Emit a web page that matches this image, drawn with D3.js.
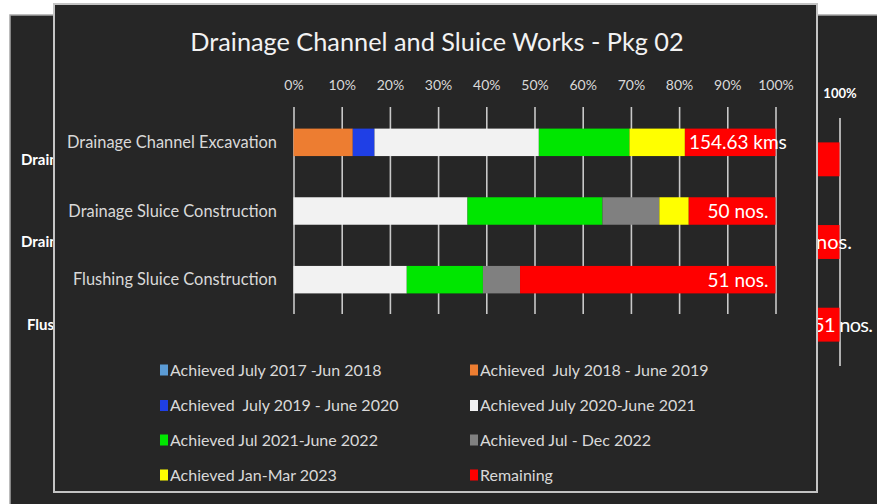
<!DOCTYPE html>
<html>
<head>
<meta charset="utf-8">
<script src="https://cdn.jsdelivr.net/npm/d3@7"></script>
<style>
  html, body { margin: 0; padding: 0; background: #ffffff; }
  svg { display: block; }
  text { font-family: Lato, "Open Sans", sans-serif; }
</style>
</head>
<body>
<svg id="chart" width="877" height="504"></svg>
<script>
// ---------------- data ----------------
const chartTitle = "Drainage Channel and Sluice Works - Pkg 02";
const categories = ["Drainage Channel Excavation", "Drainage Sluice Construction", "Flushing Sluice Construction"];
const seriesNames = [
  "Achieved July 2017 -Jun 2018",
  "Achieved  July 2018 - June 2019",
  "Achieved  July 2019 - June 2020",
  "Achieved July 2020-June 2021",
  "Achieved Jul 2021-June 2022",
  "Achieved Jul - Dec 2022",
  "Achieved Jan-Mar 2023",
  "Remaining"
];
const seriesColors = ["#5b9bd5", "#ed7d31", "#1f3fe6", "#f2f2f2", "#00e600", "#808080", "#ffff00", "#ff0000"];
// percentages per category
const jul17_jun18 = [0, 0, 0];
const jul18_jun19 = [12.3, 0, 0];
const jul19_jun20 = [4.5, 0, 0];
const jul20_jun21 = [34.1, 36.1, 23.5];
const jul21_jun22 = [18.8, 28.0, 15.8];
const jul_dec22   = [0, 11.8, 7.7];
const jan_mar23   = [11.5, 6.1, 0];
const remaining   = [18.8, 18.0, 53.0];
const barLabels = ["154.63 kms", "50 nos.", "51 nos."];
const tickValues = [0, 10, 20, 30, 40, 50, 60, 70, 80, 90, 100];
const tickLabels = ["0%", "10%", "20%", "30%", "40%", "50%", "60%", "70%", "80%", "90%", "100%"];

// ---------------- build table ----------------
const seriesValues = [jul17_jun18, jul18_jun19, jul19_jun20, jul20_jun21, jul21_jun22, jul_dec22, jan_mar23, remaining];
const keys = seriesNames.map((d, i) => "s" + i);
const rows = categories.map((c, ci) => {
  const r = { category: c };
  keys.forEach((k, si) => { r[k] = seriesValues[si][ci]; });
  return r;
});
const stacked = d3.stack().keys(keys)(rows);
const color = d3.scaleOrdinal().domain(keys).range(seriesColors);

const svg = d3.select("#chart");

// front panel geometry
const panel = { x: 54, y: 4, w: 763, h: 488 };

// clip for the background chart: only what lies outside the front panel
const defs = svg.append("defs");
const clip = defs.append("clipPath").attr("id", "outsidePanel");
clip.append("rect").attr("x", 0).attr("y", 0).attr("width", panel.x - 1).attr("height", 504);
clip.append("rect").attr("x", panel.x + panel.w + 1).attr("y", 0).attr("width", 877).attr("height", 504);

// ---------------- background (duplicate chart behind) ----------------
svg.append("rect").attr("x", 10).attr("y", 15).attr("width", 880).attr("height", 500)
  .attr("fill", "#262626").attr("stroke", "#a6a6a6").attr("stroke-width", 1.5);
const back = svg.append("g").attr("clip-path", "url(#outsidePanel)");

const xb = d3.scaleLinear().domain([0, 100]).range([259.5, 839.5]);
const yb = d3.scaleBand().domain(categories).range([118, 366]).paddingInner(0.59).paddingOuter(0.295);

const backAxis = back.append("g").attr("transform", "translate(0,366)")
  .call(d3.axisTop(xb).tickValues(tickValues).tickFormat((d, i) => tickLabels[i]).tickSize(248).tickPadding(20));
backAxis.select(".domain").remove();
backAxis.selectAll(".tick").filter(d => xb(d) < panel.x + panel.w).remove();
backAxis.selectAll(".tick line").attr("stroke", "#bfbfbf").attr("stroke-width", 1.8);
backAxis.selectAll(".tick text").attr("fill", "#ffffff").attr("font-size", 13).attr("font-weight", "bold");

back.append("g").selectAll("g").data(stacked).join("g")
  .attr("fill", d => color(d.key))
  .selectAll("rect").data(d => d).join("rect")
  .attr("x", d => xb(d[0])).attr("width", d => xb(d[1]) - xb(d[0]))
  .attr("y", d => yb(d.data.category)).attr("height", yb.bandwidth());

const backCatX = [21, 21, 27];
back.append("g").selectAll("text").data(categories).join("text")
  .attr("x", (d, i) => backCatX[i]).attr("y", d => yb(d) + yb.bandwidth() / 2)
  .attr("dy", "0.35em").attr("fill", "#ffffff").attr("font-size", 15).attr("font-weight", "bold")
  .text(d => d);

const backLabelEnd = [null, 852, 873];
back.append("g").selectAll("text").data(categories).join("text")
  .filter((d, i) => backLabelEnd[i] !== null)
  .attr("x", d => backLabelEnd[categories.indexOf(d)])
  .attr("y", d => yb(d) + yb.bandwidth() / 2)
  .attr("dy", "0.35em").attr("text-anchor", "end").attr("fill", "#ffffff").attr("font-size", 20)
  .attr("textLength", d => categories.indexOf(d) === 2 ? 60 : null)
  .text(d => barLabels[categories.indexOf(d)]);

// ---------------- front panel ----------------
svg.append("rect").attr("x", panel.x).attr("y", panel.y).attr("width", panel.w).attr("height", panel.h)
  .attr("fill", "#262626").attr("stroke", "#c4c4c4").attr("stroke-width", 2);

const front = svg.append("g");
front.append("text").attr("x", 437).attr("y", 51).attr("text-anchor", "middle")
  .attr("fill", "#f2f2f2").attr("font-size", 25.3).text(chartTitle);

const x = d3.scaleLinear().domain([0, 100]).range([293.5, 775.5]);
const y = d3.scaleBand().domain(categories).range([108, 314]).paddingInner(0.6).paddingOuter(0.3);

const axis = front.append("g").attr("transform", "translate(0,314)")
  .call(d3.axisTop(x).tickValues(tickValues).tickFormat((d, i) => tickLabels[i]).tickSize(207).tickPadding(17));
axis.select(".domain").remove();
axis.selectAll(".tick line").attr("stroke", "#c8c8c8").attr("stroke-width", 1.6);
axis.selectAll(".tick text").attr("fill", "#d9d9d9").attr("font-size", 14);

front.append("g").selectAll("g").data(stacked).join("g")
  .attr("fill", d => color(d.key))
  .selectAll("rect").data(d => d).join("rect")
  .attr("x", d => x(d[0])).attr("width", d => x(d[1]) - x(d[0]))
  .attr("y", d => y(d.data.category)).attr("height", y.bandwidth());

// category labels
front.append("g").selectAll("text").data(categories).join("text")
  .attr("x", 277).attr("y", d => y(d) + y.bandwidth() / 2).attr("dy", "0.35em")
  .attr("text-anchor", "end").attr("fill", "#d9d9d9").attr("font-size", 16.4)
  .text(d => d);

// data labels on the Remaining segment
const lastSeries = stacked[stacked.length - 1];
front.append("g").selectAll("text").data(lastSeries).join("text")
  .attr("y", d => y(d.data.category) + y.bandwidth() / 2).attr("dy", "0.36em")
  .attr("fill", "#ffffff").attr("font-size", 19)
  .text((d, i) => barLabels[i])
  .each(function (d) {
    const w = this.getComputedTextLength();
    const segW = x(d[1]) - x(d[0]);
    if (w + 12 > segW) {
      d3.select(this).attr("x", x(d[0]) + 4).attr("text-anchor", "start");
    } else {
      d3.select(this).attr("x", x(d[1]) - 7).attr("text-anchor", "end");
    }
  });

// legend
const legCols = [160, 470];
const legRows = [370, 405.5, 440, 475];
const legend = front.append("g").selectAll("g").data(seriesNames).join("g")
  .attr("transform", (d, i) => `translate(${legCols[i % 2]},${legRows[Math.floor(i / 2)]})`);
legend.append("rect").attr("x", 0).attr("y", -5.5).attr("width", 8).attr("height", 11)
  .attr("fill", (d, i) => seriesColors[i]);
legend.append("text").attr("x", 10).attr("y", 0).attr("dy", "0.35em")
  .attr("fill", "#d9d9d9").attr("font-size", 16).attr("xml:space", "preserve")
  .style("white-space", "pre").text(d => d);
</script>
</body>
</html>
